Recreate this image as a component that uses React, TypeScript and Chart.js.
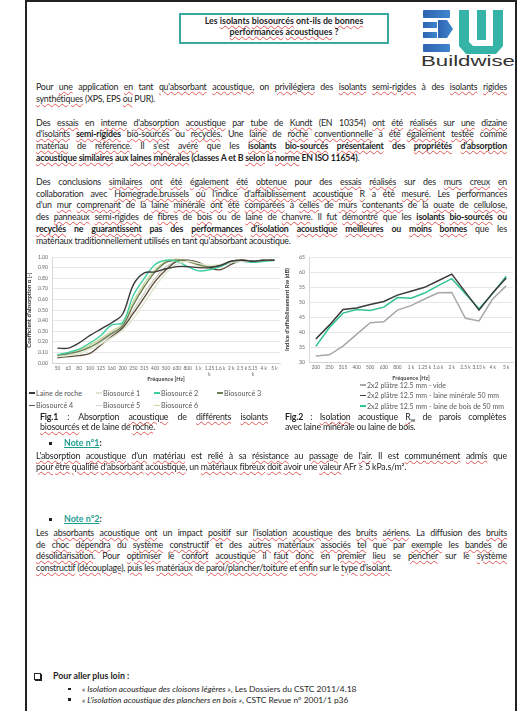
import React, { useEffect, useRef } from "react";
import { Chart, registerables } from "chart.js";

Chart.register(...registerables);

const FONT = "Lato, 'Open Sans', 'Liberation Sans', sans-serif";

// ---------- Fig.1 : absorption coefficient per third-octave band ----------
const absFreqLabels: (string | string[])[] = [
  "50", "63", "80", "100", "125", "160", "200", "250", "315", "400", "500",
  "630", "800", "1 k", ["1.25", "k"], "1.6 k", "2 k", "2.5 k", ["3.15", "k"], "4 k", "5 k",
];
const absNames = [
  "Laine de roche", "Biosourcé 1", "Biosourcé 2", "Biosourcé 3",
  "Biosourcé 4", "Biosourcé 5", "Biosourcé 6",
];
const absColors = ["#3a3a3a", "#dde6cf", "#3fcf9f", "#6f7d55", "#5e4f3c", "#d2d2c8", "#c8d79a"];
const laineDeRoche = [0.14, 0.14, 0.19, 0.26, 0.32, 0.38, 0.46, 0.74, 0.85, 0.86, 0.89, 0.91, 0.91, 0.90, 0.90, 0.92, 0.96, 0.97, 0.96, 0.97, 0.97];
const biosource1 = [0.06, 0.07, 0.09, 0.13, 0.18, 0.24, 0.31, 0.42, 0.57, 0.72, 0.85, 0.93, 0.96, 0.94, 0.92, 0.93, 0.95, 0.96, 0.96, 0.97, 0.97];
const biosource2 = [0.08, 0.10, 0.13, 0.19, 0.26, 0.36, 0.38, 0.64, 0.80, 0.93, 0.97, 0.96, 0.91, 0.87, 0.88, 0.91, 0.95, 0.96, 0.95, 0.96, 0.97];
const biosource3 = [0.07, 0.09, 0.11, 0.15, 0.21, 0.28, 0.35, 0.55, 0.72, 0.86, 0.95, 0.97, 0.96, 0.93, 0.91, 0.92, 0.96, 0.97, 0.96, 0.97, 0.97];
const biosource4 = [0.05, 0.06, 0.07, 0.09, 0.17, 0.25, 0.33, 0.47, 0.62, 0.77, 0.88, 0.96, 0.97, 0.95, 0.90, 0.88, 0.93, 0.97, 0.96, 0.97, 0.97];
const biosource5 = [0.07, 0.08, 0.11, 0.15, 0.20, 0.27, 0.34, 0.50, 0.66, 0.80, 0.91, 0.96, 0.97, 0.94, 0.91, 0.92, 0.95, 0.97, 0.96, 0.96, 0.97];
const biosource6 = [0.07, 0.09, 0.12, 0.17, 0.23, 0.30, 0.37, 0.58, 0.75, 0.88, 0.96, 0.98, 0.96, 0.92, 0.90, 0.92, 0.96, 0.97, 0.96, 0.97, 0.97];
const absSeries = [laineDeRoche, biosource1, biosource2, biosource3, biosource4, biosource5, biosource6];
const absAxis = { min: 0, max: 1, step: 0.1 };

// ---------- Fig.2 : sound reduction index Rw of complete walls ----------
const rwFreqLabels = [
  "200", "250", "315", "400", "500", "630", "800", "1 k", "1.25 k",
  "1.6 k", "2 k", "2.5 k", "3.15 k", "4 k", "5 k",
];
const rwNames = [
  "2x2 plâtre 12.5 mm - vide",
  "2x2 plâtre 12.5 mm - laine minérale 50 mm",
  "2x2 plâtre 12.5 mm - laine de bois de 50 mm",
];
const rwColors = ["#a8a8a8", "#3a3a3a", "#2fc48d"];
const rwVide = [32.0, 32.4, 35.3, 39.2, 43.1, 43.4, 47.3, 48.8, 51.0, 53.1, 53.2, 44.6, 43.7, 51.0, 55.4];
const rwLaineMinerale = [37.7, 42.3, 47.5, 48.0, 49.2, 50.2, 52.3, 53.6, 54.9, 57.1, 59.3, 53.3, 47.3, 53.0, 58.0];
const rwLaineBois = [35.2, 41.5, 46.3, 47.5, 47.2, 48.3, 51.5, 51.3, 53.0, 55.5, 57.8, 52.8, 47.8, 52.8, 58.6];
const rwSeries = [rwVide, rwLaineMinerale, rwLaineBois];
const rwAxis = { min: 30, max: 65, step: 5 };

// ---------- page text ----------
const titleLines = ["Les ~isolants~ ~biosourcés~ ont-ils de ~bonnes~", "~performances~ ~acoustiques~ ?"];

const para1 = [
  "Pour ~une~ application ~en~ tant ~qu'absorbant~ ~acoustique,~ on ~privilégiera~ des ~isolants~ ~semi-rigides~ à des ~isolants~ ~rigides~",
  "~synthétiques~ (XPS, EPS ~ou~ PUR).",
];
const para2 = [
  "Des ~essais~ en ~interne~ ~d'absorption~ ~acoustique~ par ~tube~ de ~Kundt~ (EN 10354) ~ont~ ~été~ ~réalisés~ sur ~une~ ~dizaine~",
  "~d'isolants~ **~semi-rigides~** ~bio-sourcés~ ou ~recyclés~. Une ~laine~ de ~roche~ ~conventionnelle~ a ~été~ ~également~ ~testée~ comme",
  "~matériau~ de ~référence~. Il ~s'est~ ~avéré~ que les **~isolants~ ~bio-sourcés~ ~présentaient~ des ~propriétés~ ~d'absorption~**",
  "**~acoustique~ ~similaires~ aux ~laines~ ~minérales~ (classes A et B ~selon~ la ~norme~ EN ISO 11654)**.",
];
const para3 = [
  "Des conclusions ~similaires~ ~ont~ ~été~ ~également~ ~été~ ~obtenue~ pour des ~essais~ ~réalisés~ sur des ~murs~ ~creux~ ~en~",
  "collaboration avec ~Homegrade.brussels~ ~où~ ~l'indice~ ~d'affaiblissement~ ~acoustique~ ~R~ a été ~mesuré~. Les performances",
  "d'un ~mur~ ~comprenant~ de la ~laine~ ~minérale~ ~ont~ ~été~ ~comparées~ à ~celles~ de ~murs~ ~contenants~ de la ~ouate~ de ~cellulose~,",
  "des ~panneaux~ ~semi-rigides~ de ~fibres~ de ~bois~ ou de ~laine~ de ~chanvre~. Il ~fut~ ~démontré~ que les **~isolants~ ~bio-sourcés~ ou**",
  "**~recyclés~ ne ~guarantissent~ pas des ~performances~ ~d'isolation~ ~acoustique~ ~meilleures~ ou ~moins~ ~bonnes~** que les",
  "matériaux traditionnellement utilisés en tant qu'absorbant acoustique.",
];
const fig1Caption = [
  "**Fig.1** : Absorption ~acoustique~ de ~différents~ ~isolants~",
  "~biosourcés~ et de laine de ~roche~.",
];
const fig2Caption = [
  "**Fig.2** : ~Isolation~ acoustique ~R_w~ de parois complètes",
  "avec laine minérale ou laine de bois.",
];
const note1 = [
  "~L'absorption~ ~acoustique~ ~d'un~  ~matériau~ est ~relié~ à sa ~résistance~ au ~passage~ de ~l'air~. Il est ~communément~ ~admis~ que",
  "~pour~ ~être~ ~qualifié~ ~d'absorbant~ ~acoustique~, un ~matériaux~ ~fibreux~ ~doit~ ~avoir~ une ~valeur~ AFr ≥ 5 kPa.s/m².",
];
const note2 = [
  "Les ~absorbants~ ~acoustique~ ~ont~ un impact ~positif~ sur ~l'isolation~ ~acoustique~ des ~bruits~ ~aériens~. La diffusion des ~bruits~",
  "de ~choc~ ~dépendra~ du ~système~ ~constructif~ et des ~autres~ ~matériaux~ ~associés~ ~tel~ que par ~exemple~ les ~bandes~ de",
  "~désolidarisation~. Pour ~optimiser~ le ~confort~ ~acoustique~ il ~faut~ ~donc~ en ~premier~ ~lieu~ se ~pencher~ sur le ~système~",
  "~constructif~ (~découplage~), ~puis~ les ~matériaux~ de ~paroi/plancher/toiture~ et ~enfin~ sur le ~type~ ~d'isolant~.",
];
const readMore = [
  { title: "« Isolation acoustique des cloisons légères »", source: ", Les Dossiers du CSTC 2011/4.18" },
  { title: "« L'isolation acoustique des planchers en bois »", source: ", CSTC Revue n° 2001/1 p36" },
];

// ---------- text helpers ----------
const wavy: React.CSSProperties = {
  textDecorationLine: "underline",
  textDecorationStyle: "wavy",
  textDecorationColor: "rgba(225, 60, 60, 0.85)",
  textDecorationThickness: "0.6px",
  textUnderlineOffset: "1px",
};

function inline(s: string, keyBase: string): React.ReactNode[] {
  return s.split(/(~[^~]+~)/g).filter((p) => p !== "").map((p, i) => {
    const isWavy = p.startsWith("~") && p.endsWith("~") && p.length > 1;
    const txt = isWavy ? p.slice(1, -1) : p;
    const content: React.ReactNode[] = txt.split(/(_w)/g).map((q, j) =>
      q === "_w" ? (
        <sub key={j} style={{ fontSize: "70%", lineHeight: 0, verticalAlign: "-1.5px" }}>w</sub>
      ) : (
        <React.Fragment key={j}>{q}</React.Fragment>
      )
    );
    return (
      <span key={keyBase + i} style={isWavy ? wavy : undefined}>
        {content}
      </span>
    );
  });
}

function rich(s: string): React.ReactNode[] {
  return s.split(/(\*\*[^*]+\*\*)/g).filter((p) => p !== "").map((p, i) =>
    p.startsWith("**") ? (
      <b key={i}>{inline(p.slice(2, -2), "b" + i)}</b>
    ) : (
      <React.Fragment key={i}>{inline(p, "n" + i)}</React.Fragment>
    )
  );
}

const BODY_SIZE = 8.8;
const LINE_H = 11.85;

function Para({ lines, top, left, width, lh = LINE_H, size = BODY_SIZE }: {
  lines: string[]; top: number; left: number; width: number; lh?: number; size?: number;
}) {
  return (
    <div style={{ position: "absolute", top, left, width }}>
      {lines.map((l, i) => {
        const last = i === lines.length - 1;
        return (
          <div
            key={i}
            style={{
              height: lh,
              lineHeight: lh + "px",
              fontSize: size,
              whiteSpace: "nowrap",
              textAlign: last ? "left" : "justify",
              textAlignLast: last ? "left" : "justify",
              letterSpacing: "-0.2px",
            }}
          >
            {rich(l)}
          </div>
        );
      })}
    </div>
  );
}

// ---------- chart helpers ----------
function ChartCanvas({ left, top, width, height, build }: {
  left: number; top: number; width: number; height: number; build: () => any;
}) {
  const ref = useRef<HTMLCanvasElement>(null);
  useEffect(() => {
    const chart = new Chart(ref.current as HTMLCanvasElement, build());
    return () => chart.destroy();
  }, []);
  return (
    <canvas
      ref={ref}
      width={width}
      height={height}
      style={{ position: "absolute", left, top, width, height }}
    />
  );
}

function axisOptions(
  yr: { min: number; max: number; step: number },
  yTitle: string,
  yFmt: (v: number) => string,
  yWidth: number
) {
  return {
    x: {
      offset: true,
      grid: { display: false, drawTicks: false },
      border: { display: true, color: "#cfcfcf", width: 0.8 },
      ticks: {
        autoSkip: false,
        maxRotation: 0,
        minRotation: 0,
        padding: 3,
        color: "#666",
        font: { family: FONT, size: 4.8 },
      },
      title: {
        display: true,
        text: "Fréquence [Hz]",
        color: "#444",
        padding: { top: 1, bottom: 0 },
        font: { family: FONT, size: 5.6, weight: "bold" },
      },
      afterFit: (s: any) => {
        s.height = 20;
      },
    },
    y: {
      min: yr.min,
      max: yr.max,
      grid: { color: "#dedede", lineWidth: 0.7, drawTicks: false },
      border: { display: true, color: "#cfcfcf", width: 0.8 },
      ticks: {
        stepSize: yr.step,
        padding: 4,
        color: "#666",
        font: { family: FONT, size: 5.1 },
        callback: (v: any) => yFmt(Number(v)),
      },
      title: {
        display: true,
        text: yTitle,
        color: "#333",
        padding: { top: 0, bottom: 0 },
        font: { family: FONT, size: 5.9, weight: "bold" },
      },
      afterFit: (s: any) => {
        s.width = yWidth;
      },
    },
  };
}

function buildAbsorption() {
  return {
    type: "line",
    data: {
      labels: absFreqLabels,
      datasets: absSeries.map((d, i) => ({
        label: absNames[i],
        data: d,
        borderColor: absColors[i],
        borderWidth: 1.4,
        pointRadius: 0,
        tension: 0.35,
        fill: false,
      })),
    },
    options: {
      responsive: false,
      animation: false,
      events: [],
      layout: { padding: { top: 4, right: 1, left: 0, bottom: 0 } },
      plugins: { legend: { display: false }, tooltip: { enabled: false } },
      scales: axisOptions(absAxis, "Coefficient d'absorption α [-]", (v) => v.toFixed(2), 26),
    },
  };
}

function buildRw() {
  return {
    type: "line",
    data: {
      labels: rwFreqLabels,
      datasets: rwSeries.map((d, i) => ({
        label: rwNames[i],
        data: d,
        borderColor: rwColors[i],
        borderWidth: 1.5,
        pointRadius: 0,
        tension: 0,
        fill: false,
      })),
    },
    options: {
      responsive: false,
      animation: false,
      events: [],
      layout: { padding: { top: 4, right: 3, left: 0, bottom: 0 } },
      plugins: { legend: { display: false }, tooltip: { enabled: false } },
      scales: axisOptions(rwAxis, "Indice d'affaiblissement Rw (dB)", (v) => String(v), 25),
    },
  };
}

function LegendItem({ x, y, color, label, size }: { x: number; y: number; color: string; label: string; size: number }) {
  return (
    <div
      style={{
        position: "absolute",
        left: x,
        top: y - 4.5,
        height: 9,
        lineHeight: "9px",
        display: "flex",
        alignItems: "center",
        whiteSpace: "nowrap",
        fontSize: size,
        color: "#595959",
      }}
    >
      <span style={{ display: "inline-block", width: 6, height: 1.6, background: color, marginRight: 1 }} />
      {label}
    </div>
  );
}

const absLegendSlots = [
  [29, 393], [96, 393], [154, 393], [217, 393],
  [29, 405.5], [96, 405.5], [154, 405.5],
];
const rwLegendSlots = [[360, 385], [360, 395.5], [360, 406]];

function Logo() {
  return (
    <svg width={100} height={70} viewBox="420 4 100 70" style={{ position: "absolute", left: 420, top: 4 }}>
      <defs>
        <linearGradient id="bw-blue" x1="0" y1="0" x2="1" y2="0">
          <stop offset="0" stopColor="#2f63b0" />
          <stop offset="1" stopColor="#3f86cf" />
        </linearGradient>
      </defs>
      <g fill="url(#bw-blue)">
        <rect x={423} y={10} width={27} height={8} rx={1} />
        <rect x={423} y={22} width={14} height={6} />
        <rect x={423} y={32} width={14} height={6} />
        <polygon points="438,20 447,20 453,29 447,38 438,38" />
        <rect x={423} y={44} width={27} height={8} rx={1} />
      </g>
      <g fill="#35b3a6">
        <path d="M459,10 h10 v32 l4,4 h20 v-36 h10 v36 l-7,8 h-30 l-7,-8 z" />
        <rect x={477} y={10} width={9} height={30} />
      </g>
      <text
        x={421}
        y={66}
        textLength={94}
        lengthAdjust="spacingAndGlyphs"
        style={{ fontFamily: "'Liberation Sans', Arial, sans-serif", fontSize: 15.5, fill: "#333" }}
      >
        Buildwise
      </text>
    </svg>
  );
}

function Square({ x, y, s = 3 }: { x: number; y: number; s?: number }) {
  return <div style={{ position: "absolute", left: x, top: y - s / 2, width: s, height: s, background: "#222" }} />;
}

export default function App() {
  const body = 36;
  const bodyW = 471;
  return (
    <div
      style={{
        position: "absolute",
        left: 0,
        top: 0,
        width: 524,
        height: 711,
        overflow: "hidden",
        background: "#fff",
        fontFamily: FONT,
        color: "#1e1e1e",
      }}
    >
      {/* page frame */}
      <div
        style={{
          position: "absolute",
          left: 25,
          top: 0,
          width: 492,
          height: 760,
          boxSizing: "border-box",
          border: "2px solid #222",
        }}
      />

      {/* title box */}
      <div
        style={{
          position: "absolute",
          left: 179,
          top: 13,
          width: 210,
          height: 31,
          boxSizing: "border-box",
          border: "2px solid #3aa89c",
          textAlign: "center",
          fontWeight: "bold",
          fontSize: 8.8,
          lineHeight: "11px",
          paddingTop: 0,
        }}
      >
        {titleLines.map((t, i) => (
          <div key={i}>{rich(t)}</div>
        ))}
      </div>
      <Logo />

      <Para lines={para1} top={81} left={body} width={bodyW} />
      <Para lines={para2} top={81 + 3 * LINE_H} left={body} width={bodyW} />
      <Para lines={para3} top={81 + 8 * LINE_H} left={body} width={bodyW} />

      {/* figures */}
      <ChartCanvas left={26} top={250} width={255} height={133} build={buildAbsorption} />
      <ChartCanvas left={284} top={250} width={232} height={132} build={buildRw} />
      {absNames.map((n, i) => (
        <LegendItem key={n} x={absLegendSlots[i][0]} y={absLegendSlots[i][1]} color={absColors[i]} label={n} size={7.2} />
      ))}
      {rwNames.map((n, i) => (
        <LegendItem key={n} x={rwLegendSlots[i][0]} y={rwLegendSlots[i][1]} color={rwColors[i]} label={n} size={7} />
      ))}

      <Para lines={fig1Caption} top={411.5} left={40} width={228} lh={10.6} />
      <Para lines={fig2Caption} top={411.5} left={285} width={221} lh={10.6} />

      {/* note 1 */}
      <Square x={49} y={443} />
      <div
        style={{
          position: "absolute",
          left: 64,
          top: 437,
          fontSize: BODY_SIZE,
          lineHeight: "12px",
          fontWeight: "bold",
        }}
      >
        <span style={{ color: "#1f9e8f", textDecoration: "underline" }}>Note n°1</span>:
      </div>
      <Para lines={note1} top={449.5} left={body} width={bodyW} lh={11} />

      {/* note 2 */}
      <Square x={49} y={519} />
      <div
        style={{
          position: "absolute",
          left: 64,
          top: 513,
          fontSize: BODY_SIZE,
          lineHeight: "12px",
          fontWeight: "bold",
        }}
      >
        <span style={{ color: "#1f9e8f", textDecoration: "underline" }}>Note n°2</span>:
      </div>
      <Para lines={note2} top={527} left={body} width={bodyW} lh={11.5} />

      {/* further reading */}
      <div
        style={{
          position: "absolute",
          left: 34,
          top: 673,
          width: 5,
          height: 5,
          border: "1px solid #222",
          boxShadow: "1px 1px 0 #222",
        }}
      />
      <div style={{ position: "absolute", left: 53, top: 670, fontSize: BODY_SIZE, lineHeight: "12px", fontWeight: "bold" }}>
        Pour aller plus loin :
      </div>
      {readMore.map((r, i) => (
        <React.Fragment key={i}>
          <Square x={68} y={689 + i * 10.5} s={2.5} />
          <div
            style={{
              position: "absolute",
              left: 82,
              top: 683 + i * 10.5,
              fontSize: 8.4,
              lineHeight: "12px",
              whiteSpace: "nowrap",
            }}
          >
            <i>{r.title}</i>
            {r.source}
          </div>
        </React.Fragment>
      ))}
    </div>
  );
}
